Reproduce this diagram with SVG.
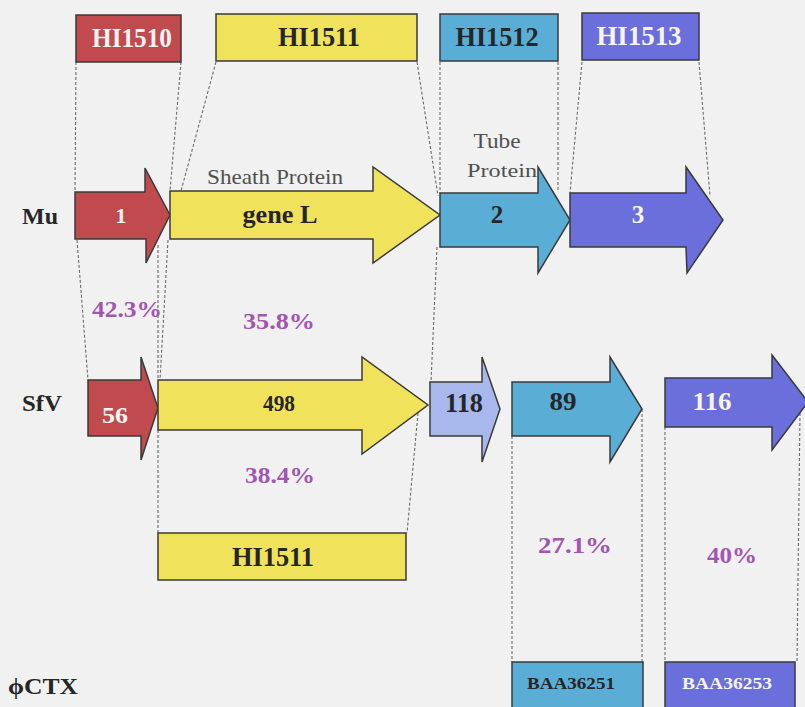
<svg xmlns="http://www.w3.org/2000/svg" width="805" height="707" viewBox="0 0 805 707">
<style>
.bg{fill:#f1f1f1}
.sh{stroke:#3a3a3a;stroke-width:1.5;stroke-linejoin:miter}
.red{fill:#c14a4f}
.yel{fill:#f1e25c}
.blu{fill:#5aaed6}
.pur{fill:#6b6fdc}
.lbl{fill:#a9b8ec}
.t{font-family:"Liberation Serif","Times New Roman",serif;font-weight:bold;text-anchor:middle}
.w{fill:#f8f4f4}
.d{fill:#262626}
.g{font-family:"Liberation Serif","Times New Roman",serif;fill:#505050;text-anchor:middle}
.pc{font-family:"Liberation Serif","Times New Roman",serif;font-weight:bold;fill:#a256b2;text-anchor:middle}
.row{font-family:"Liberation Serif","Times New Roman",serif;font-weight:bold;fill:#262626}
#connectors line{stroke:#6a6a6a;stroke-width:1.1;stroke-dasharray:3 2;fill:none}
</style>
<rect class="bg" x="0" y="0" width="805" height="707"/>

<g id="connectors">
<line x1="76" y1="62" x2="75" y2="192"/>
<line x1="181" y1="62" x2="170" y2="191"/>
<line x1="216" y1="62" x2="181" y2="191"/>
<line x1="417" y1="62" x2="438" y2="196"/>
<line x1="440" y1="62" x2="440" y2="193"/>
<line x1="558" y1="62" x2="558" y2="190"/>
<line x1="582" y1="62" x2="570" y2="193"/>
<line x1="699" y1="62" x2="710" y2="196"/>
<line x1="77" y1="240" x2="88" y2="380"/>
<line x1="158" y1="245" x2="158" y2="380"/>
<line x1="168" y1="240" x2="160" y2="380"/>
<line x1="437" y1="247" x2="431" y2="382"/>
<line x1="158" y1="430" x2="158" y2="533"/>
<line x1="418" y1="413" x2="407" y2="533"/>
<line x1="512" y1="436" x2="512" y2="662"/>
<line x1="642" y1="409" x2="642" y2="662"/>
<line x1="665" y1="427" x2="665" y2="662"/>
<line x1="800" y1="413" x2="797" y2="662"/>
</g>

<g id="HI1510">
<rect class="sh red" x="76" y="15" width="105" height="47"/>
<text class="t w" x="132" y="47" font-size="27" textLength="80" lengthAdjust="spacingAndGlyphs">HI1510</text>
</g>
<g id="HI1511-top">
<rect class="sh yel" x="216" y="14" width="201" height="47"/>
<text class="t d" x="319" y="46" font-size="27" textLength="82" lengthAdjust="spacingAndGlyphs">HI1511</text>
</g>
<g id="HI1512">
<rect class="sh blu" x="440" y="14" width="118" height="47"/>
<text class="t d" x="497" y="46" font-size="27" textLength="83" lengthAdjust="spacingAndGlyphs">HI1512</text>
</g>
<g id="HI1513">
<rect class="sh pur" x="582" y="13" width="117" height="47"/>
<text class="t w" x="639" y="45" font-size="27" textLength="85" lengthAdjust="spacingAndGlyphs">HI1513</text>
</g>

<g id="label-Mu"><text class="row" x="22" y="224" font-size="23" textLength="36" lengthAdjust="spacingAndGlyphs">Mu</text></g>
<g id="label-SfV"><text class="row" x="22" y="411" font-size="23" textLength="40" lengthAdjust="spacingAndGlyphs">SfV</text></g>
<g id="label-phiCTX"><text class="row" x="8" y="694" font-size="24" textLength="70" lengthAdjust="spacingAndGlyphs">ϕCTX</text></g>

<g id="Mu-1">
<polygon class="sh red" points="75,192 145,192 145,168 170,215 146,263 146,239 75,239"/>
<text class="t w" x="121" y="223" font-size="22">1</text>
</g>
<g id="Mu-geneL">
<polygon class="sh yel" points="170,191 373,191 373,167 440,215 373,263 373,239 170,239"/>
<text class="t d" x="280" y="223" font-size="25" textLength="75" lengthAdjust="spacingAndGlyphs">gene L</text>
<text class="g" x="275" y="184" font-size="21" textLength="136" lengthAdjust="spacingAndGlyphs">Sheath Protein</text>
</g>
<g id="Mu-2">
<polygon class="sh blu" points="440,193 538,193 538,167 570,220 538,273 538,247 440,247"/>
<text class="t d" x="497" y="223" font-size="25">2</text>
<text class="g" x="497" y="148" font-size="21" textLength="47" lengthAdjust="spacingAndGlyphs">Tube</text>
<text class="g" x="502" y="177" font-size="19" textLength="70" lengthAdjust="spacingAndGlyphs">Protein</text>
</g>
<g id="Mu-3">
<polygon class="sh pur" points="570,193 686,193 686,167 723,220 687,273 686,247 570,247"/>
<text class="t w" x="638" y="223" font-size="25">3</text>
</g>

<text class="pc" x="127" y="317" font-size="24" textLength="70" lengthAdjust="spacingAndGlyphs">42.3%</text>
<text class="pc" x="279" y="329" font-size="24" textLength="72" lengthAdjust="spacingAndGlyphs">35.8%</text>

<g id="SfV-56">
<polygon class="sh red" points="88,380 141,380 141,357 158,408 141,460 141,436 88,436"/>
<text class="t w" x="115" y="423" font-size="23" textLength="26" lengthAdjust="spacingAndGlyphs">56</text>
</g>
<g id="SfV-498">
<polygon class="sh yel" points="158,380 362,380 362,357 428,405 362,454 362,430 158,430"/>
<text class="t d" x="279" y="411" font-size="23" textLength="32" lengthAdjust="spacingAndGlyphs">498</text>
</g>
<g id="SfV-118">
<polygon class="sh lbl" points="430,382 482,382 482,357 500,409 482,462 482,436 430,436"/>
<text class="t d" x="464" y="412" font-size="27" textLength="38" lengthAdjust="spacingAndGlyphs">118</text>
</g>
<g id="SfV-89">
<polygon class="sh blu" points="512,382 610,382 610,357 642,409 610,462 610,436 512,436"/>
<text class="t d" x="563" y="410" font-size="26" textLength="27" lengthAdjust="spacingAndGlyphs">89</text>
</g>
<g id="SfV-116">
<polygon class="sh pur" points="665,378 772,378 772,355 808,402 772,450 772,427 665,427"/>
<text class="t w" x="712" y="410" font-size="26" textLength="39" lengthAdjust="spacingAndGlyphs">116</text>
</g>

<text class="pc" x="280" y="483" font-size="24" textLength="70" lengthAdjust="spacingAndGlyphs">38.4%</text>
<text class="pc" x="575" y="553" font-size="24" textLength="74" lengthAdjust="spacingAndGlyphs">27.1%</text>
<text class="pc" x="732" y="563" font-size="24" textLength="50" lengthAdjust="spacingAndGlyphs">40%</text>

<g id="HI1511-bottom">
<rect class="sh yel" x="158" y="533" width="248" height="47"/>
<text class="t d" x="273" y="566" font-size="27" textLength="82" lengthAdjust="spacingAndGlyphs">HI1511</text>
</g>
<g id="BAA36251">
<rect class="sh blu" x="512" y="662" width="131" height="50"/>
<text class="t d" x="571" y="689" font-size="17" textLength="88" lengthAdjust="spacingAndGlyphs">BAA36251</text>
</g>
<g id="BAA36253">
<rect class="sh pur" x="665" y="662" width="130" height="50"/>
<text class="t w" x="727" y="689" font-size="17" textLength="90" lengthAdjust="spacingAndGlyphs">BAA36253</text>
</g>
</svg>
